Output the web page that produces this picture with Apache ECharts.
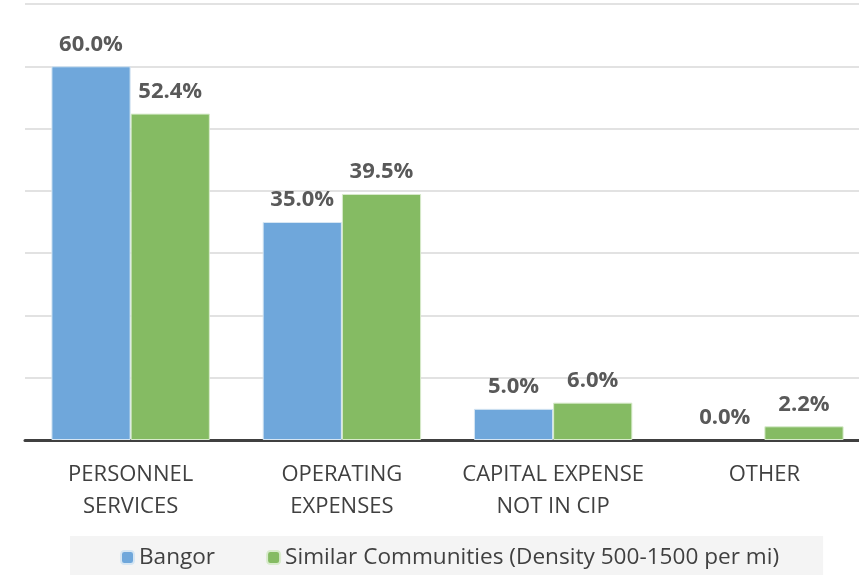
<!DOCTYPE html>
<html>
<head>
<meta charset="utf-8">
<script src="https://cdn.jsdelivr.net/npm/echarts@6/dist/echarts.min.js"></script>
<style>
  html, body { margin: 0; padding: 0; background: #fff; }
  #chart { width: 859px; height: 575px; }
</style>
</head>
<body>
<div id="chart"></div>
<script>
const categories = ["PERSONNEL\nSERVICES", "OPERATING\nEXPENSES", "CAPITAL EXPENSE\nNOT IN CIP", "OTHER"];
const bangor = [60.0, 35.0, 5.0, 0.0];
const similar = [52.4, 39.5, 6.0, 2.2];
const seriesNames = ["Bangor", "Similar Communities (Density 500-1500 per mi)"];

const chart = echarts.init(document.getElementById("chart"));

const labelStyle = {
  show: true,
  position: "top",
  distance: 11,
  fontFamily: "Open Sans",
  fontWeight: "bold",
  fontSize: 22,
  color: "#595959",
  formatter: (p) => p.value.toFixed(1) + "%",
};

// no border on empty bars, otherwise a thin line shows at zero
const toData = (arr) => arr.map((v) => (v === 0 ? { value: v, itemStyle: { borderWidth: 0 } } : v));

const option = {
  animation: false,
  textStyle: { fontFamily: "Open Sans" },
  grid: { left: 25, top: 4, width: 845, height: 436, outerBoundsMode: "none" },
  xAxis: {
    type: "category",
    data: categories,
    axisTick: { show: false },
    axisLine: { lineStyle: { color: "#404040", width: 3 } },
    axisLabel: {
      fontSize: 22,
      color: "#404040",
      lineHeight: 32,
      margin: 19,
      interval: 0,
    },
  },
  yAxis: {
    type: "value",
    min: 0,
    max: 70,
    interval: 10,
    axisLabel: { show: false },
    axisLine: { show: false },
    axisTick: { show: false },
    splitLine: { lineStyle: { color: "#d9d9d9", width: 1.5 } },
  },
  legend: {
    top: 536,
    left: 70,
    padding: [10, 44, 12, 50],
    backgroundColor: "#f4f4f4",
    itemWidth: 13,
    itemHeight: 13,
    itemGap: 51,
    textStyle: { fontSize: 22.6, color: "#404040", fontFamily: "Open Sans" },
    data: seriesNames,
  },
  series: [
    {
      name: seriesNames[0],
      type: "bar",
      data: toData(bangor),
      barGap: "0%",
      barCategoryGap: "25%",
      itemStyle: { color: "#6FA7DB", borderColor: "#d6e6f3", borderWidth: 1 },
      label: labelStyle,
    },
    {
      name: seriesNames[1],
      type: "bar",
      data: toData(similar),
      itemStyle: { color: "#85BB63", borderColor: "#d8ebcc", borderWidth: 1 },
      label: labelStyle,
    },
  ],
};

chart.setOption(option);
</script>
</body>
</html>
